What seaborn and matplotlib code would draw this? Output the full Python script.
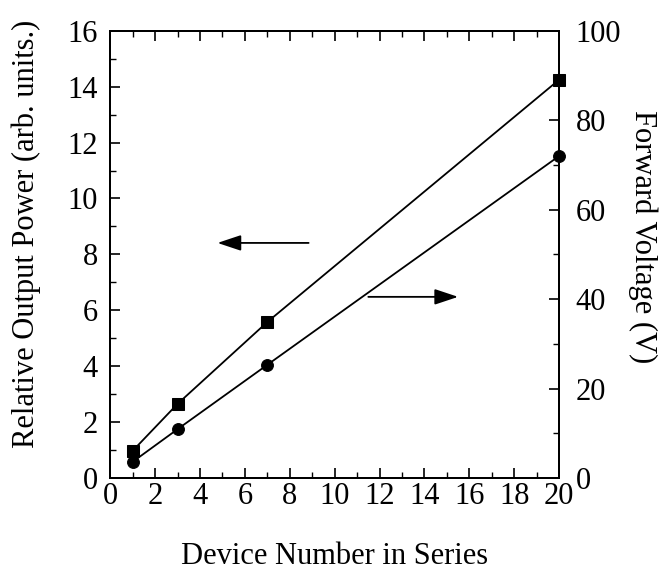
import matplotlib
matplotlib.use("Agg")
import matplotlib.pyplot as plt
from matplotlib.ticker import MultipleLocator
import seaborn as sns
import pandas as pd

# Number of devices connected in series
devices = [1, 3, 7, 20]
# Relative output power (arb. units) -- left axis
output_power = [0.97, 2.65, 5.58, 14.25]
# Forward voltage (V) -- right axis
forward_voltage = [3.6, 10.9, 25.3, 72.0]

x_ticks = list(range(0, 21, 2))
power_ticks = list(range(0, 17, 2))
voltage_ticks = list(range(0, 101, 20))

sns.set_theme(style="ticks")
plt.rcParams["font.family"] = ["Liberation Serif", "DejaVu Serif"]
plt.rcParams["mathtext.fontset"] = "stix"

df = pd.DataFrame({"n": devices, "power": output_power, "voltage": forward_voltage})

fig = plt.figure(figsize=(6.64, 5.71), dpi=100)
ax = fig.add_axes([0.166, 0.163, 0.676, 0.783])
ax2 = ax.twinx()

sns.lineplot(data=df, x="n", y="power", ax=ax, color="black", linewidth=1.3,
             marker="s", markersize=8.5, markeredgecolor="black", clip_on=False)
sns.lineplot(data=df, x="n", y="voltage", ax=ax2, color="black", linewidth=1.3,
             marker="o", markersize=8.5, markeredgecolor="black", clip_on=False)

ax.set_xlim(0, 20)
ax.set_ylim(0, 16)
ax2.set_ylim(0, 100)

ax.set_xticks(x_ticks)
ax.set_xticklabels([str(v) for v in x_ticks])
ax.set_yticks(power_ticks)
ax.set_yticklabels([str(v) for v in power_ticks])
ax2.set_yticks(voltage_ticks)
ax2.set_yticklabels([str(v) for v in voltage_ticks])

ax.xaxis.set_minor_locator(MultipleLocator(1))
ax.yaxis.set_minor_locator(MultipleLocator(1))
ax2.yaxis.set_minor_locator(MultipleLocator(10))

tick_size = 22
ax.tick_params(axis="x", which="both", direction="in", top=True, bottom=True,
               labelsize=tick_size, pad=3, colors="black")
ax.tick_params(axis="y", which="both", direction="in", left=True, right=False,
               labelsize=tick_size, pad=9, colors="black")
ax2.tick_params(axis="y", which="both", direction="in", right=True, left=False,
                labelsize=tick_size, pad=12, colors="black")
for a in (ax, ax2):
    a.tick_params(which="major", length=7, width=1.2)
    a.tick_params(which="minor", length=4, width=1.0)
    for s in a.spines.values():
        s.set_visible(True)
        s.set_linewidth(1.4)
        s.set_color("black")

label_size = 22
ax.set_xlabel("Device Number in Series", fontsize=label_size, labelpad=22, color="black")
ax.set_ylabel("Relative Output Power (arb. units.)", fontsize=label_size, color="black")
ax2.set_ylabel("Forward Voltage (V)", fontsize=label_size, rotation=270, color="black")
ax.yaxis.set_label_coords(-0.154, 0.545)
ax2.yaxis.set_label_coords(1.219, 0.539)

# Arrows pointing to the axis each curve belongs to
arrow_style = dict(arrowstyle="-|>,head_length=1.2,head_width=0.4", color="black",
                   lw=1.3, shrinkA=0, shrinkB=0)
ax.annotate("", xy=(4.78, 8.41), xytext=(8.84, 8.41), arrowprops=arrow_style)
ax.annotate("", xy=(15.5, 6.48), xytext=(11.5, 6.48), arrowprops=arrow_style)

fig.savefig("out.png", dpi=100)
